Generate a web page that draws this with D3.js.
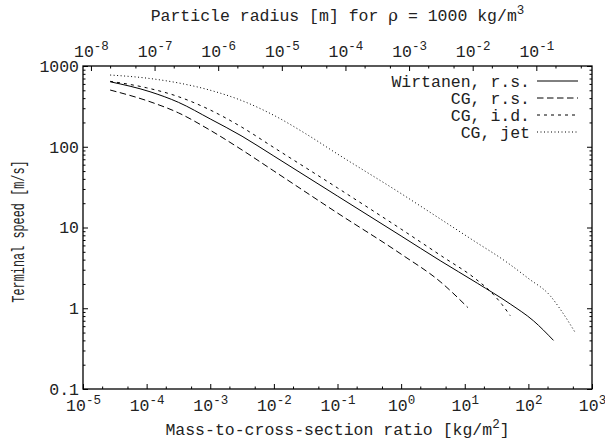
<!DOCTYPE html>
<html>
<head>
<meta charset="utf-8">
<script src="https://cdn.jsdelivr.net/npm/d3@7"></script>
<style>
  body { margin: 0; background: #fff; }
  svg text { font-family: "Liberation Mono", monospace; font-size: 16.5px; fill: #222; }
</style>
</head>
<body>
<svg id="chart" width="605" height="442"></svg>
<script>
// Terminal speed [m/s] against mass-to-cross-section ratio [kg/m^2]
const sigmaWirtanenRS = [2.67e-5, 1.13e-4, 3.16e-4, 1e-3, 3.16e-3, 0.01, 0.1, 1, 4.1, 15.8, 51.8, 120, 248];
const speedWirtanenRS = [638, 480, 355, 221, 135, 76.7, 24.5, 7.85, 3.89, 2.04, 1.13, 0.70, 0.40];

const sigmaCGRS = [2.67e-5, 1.13e-4, 3.16e-4, 1e-3, 3.16e-3, 0.01, 0.1, 1, 4.1, 11.2];
const speedCGRS = [504, 361, 263, 160, 91.2, 50.1, 15.1, 4.68, 2.14, 1.02];

const sigmaCGID = [2.67e-5, 1e-4, 3.16e-4, 1e-3, 3.16e-3, 0.01, 0.1, 1, 4.62, 13.7, 28.2, 38.3, 51.8];
const speedCGID = [646, 537, 417, 285, 174, 97.7, 30.9, 9.55, 4.28, 2.42, 1.48, 1.12, 0.81];

const sigmaCGJet = [2.67e-5, 1e-4, 3.16e-4, 1e-3, 3.16e-3, 0.01, 0.0316, 0.1, 1, 4.1, 13.6, 45.9, 100, 220, 316, 545];
const speedCGJet = [773, 708, 617, 501, 372, 245, 145, 81.3, 26.3, 12.8, 6.92, 3.71, 2.34, 1.43, 0.977, 0.50];

const seriesNames = ["Wirtanen, r.s.", "CG, r.s.", "CG, i.d.", "CG, jet"];

// axis ranges and tick labels
const sigmaDomain = [1e-5, 1e3];
const speedDomain = [0.1, 1000];
const speedTicks = [0.1, 1, 10, 100, 1000];
const speedTickLabels = ["0.1", "1", "10", "100", "1000"];
const sigmaTickExps = [-5, -4, -3, -2, -1, 0, 1, 2, 3];
const radiusTickExps = [-8, -7, -6, -5, -4, -3, -2, -1];
const grainDensity = 1000; // kg/m^3

const svg = d3.select("#chart");
const L = 83, R = 592, T = 66, B = 389;

const x = d3.scaleLog().domain(sigmaDomain).range([L, R]);
// particle radius of a sphere: sigma = 4/3 * rho * r
const toRadius = s => 3 * s / (4 * grainDensity);
const xr = d3.scaleLog().domain(sigmaDomain.map(toRadius)).range([L, R]);
const y = d3.scaleLog().domain(speedDomain).range([B, T]);

function minorTicks(domain, mults) {
  const lo = Math.floor(Math.log10(domain[0])), hi = Math.ceil(Math.log10(domain[1]));
  const out = [];
  for (let e = lo; e <= hi; e++) {
    for (const m of mults) {
      const v = m * Math.pow(10, e);
      if (v > domain[0] * 1.0001 && v < domain[1] * 0.9999) out.push(v);
    }
  }
  return out;
}

function powerLabel(sel) {
  sel.each(function(d) {
    const t = d3.select(this);
    const e = Math.round(Math.log10(d));
    t.text(null);
    t.append("tspan").text("10");
    t.append("tspan").attr("dy", -7).style("font-size", "12.5px").text(e);
  });
}

const MAJ = 5, MIN = 2.5;

// bottom axis: mass-to-cross-section ratio
const sigmaMajor = sigmaTickExps.map(e => Math.pow(10, e));
const gBottom = svg.append("g").attr("transform", `translate(0,${B})`)
  .call(d3.axisBottom(x).tickValues(sigmaMajor).tickSize(-MAJ).tickPadding(10));
gBottom.selectAll(".tick text").call(powerLabel);
svg.append("g").attr("transform", `translate(0,${B})`)
  .call(d3.axisBottom(x).tickValues(minorTicks(sigmaDomain, [2, 5])).tickSize(-MIN).tickFormat(""));

// top axis: particle radius
const radiusMajor = radiusTickExps.map(e => Math.pow(10, e));
const gTop = svg.append("g").attr("transform", `translate(0,${T})`)
  .call(d3.axisTop(xr).tickValues(radiusMajor).tickSize(-MAJ).tickPadding(9));
gTop.selectAll(".tick text").call(powerLabel);
svg.append("g").attr("transform", `translate(0,${T})`)
  .call(d3.axisTop(xr).tickValues(minorTicks(xr.domain(), [2, 5])).tickSize(-MIN).tickFormat(""));

// left and right axes: terminal speed
const speedMinor = minorTicks(speedDomain, [2, 3, 4, 5, 6, 7, 8, 9]);
svg.append("g").attr("transform", `translate(${L},0)`)
  .call(d3.axisLeft(y).tickValues(speedTicks).tickSize(-MAJ).tickPadding(4)
    .tickFormat((d, i) => speedTickLabels[i]));
svg.append("g").attr("transform", `translate(${L},0)`)
  .call(d3.axisLeft(y).tickValues(speedMinor).tickSize(-MIN).tickFormat(""));
svg.append("g").attr("transform", `translate(${R},0)`)
  .call(d3.axisRight(y).tickValues(speedTicks).tickSize(-MAJ).tickFormat(""));
svg.append("g").attr("transform", `translate(${R},0)`)
  .call(d3.axisRight(y).tickValues(speedMinor).tickSize(-MIN).tickFormat(""));

svg.selectAll(".domain").remove();
svg.selectAll(".tick line").attr("stroke", "#000").attr("stroke-width", 1);
svg.selectAll(".tick text").attr("fill", "#222");
svg.selectAll("g").attr("font-size", null).attr("font-family", null);

// frame
svg.append("rect").attr("x", L).attr("y", T).attr("width", R - L).attr("height", B - T)
  .attr("fill", "none").attr("stroke", "#000").attr("stroke-width", 1.3);

// curves
const series = [
  { name: seriesNames[0], s: sigmaWirtanenRS, v: speedWirtanenRS, dash: null },
  { name: seriesNames[1], s: sigmaCGRS, v: speedCGRS, dash: "6.5,3.5" },
  { name: seriesNames[2], s: sigmaCGID, v: speedCGID, dash: "3,4" },
  { name: seriesNames[3], s: sigmaCGJet, v: speedCGJet, dash: "1,2.5" }
];
const line = d3.line().x(d => x(d[0])).y(d => y(d[1])).curve(d3.curveMonotoneX);
svg.append("g").selectAll("path").data(series).join("path")
  .attr("d", d => line(d.s.map((s, i) => [s, d.v[i]])))
  .attr("fill", "none").attr("stroke", "#000").attr("stroke-width", 1)
  .attr("stroke-dasharray", d => d.dash);

// legend
const lg = svg.append("g");
series.forEach((d, i) => {
  const yy = 81 + i * 17;
  lg.append("text").attr("x", 530).attr("y", yy).attr("dy", "0.35em")
    .attr("text-anchor", "end").text(d.name);
  lg.append("line").attr("x1", 537).attr("x2", 578).attr("y1", yy).attr("y2", yy)
    .attr("stroke", "#000").attr("stroke-width", 1).attr("stroke-dasharray", d.dash);
});

// titles
const topTitle = svg.append("text").attr("x", (L + R) / 2).attr("y", 21).attr("text-anchor", "middle");
topTitle.append("tspan").text("Particle radius [m] for ");
topTitle.append("tspan").text("ρ").style("font-family", "DejaVu Serif, serif");
topTitle.append("tspan").text(" = 1000 kg/m");
topTitle.append("tspan").attr("dy", -7).style("font-size", "12.5px").text("3");

const bottomTitle = svg.append("text").attr("x", (L + R) / 2).attr("y", 435).attr("text-anchor", "middle");
bottomTitle.append("tspan").text("Mass-to-cross-section ratio [kg/m");
bottomTitle.append("tspan").attr("dy", -7).style("font-size", "12.5px").text("2");
bottomTitle.append("tspan").attr("dy", 7).text("]");

// vertical label is set more compactly along its length
svg.append("text").attr("transform", `translate(24,${(T + B) / 2 + 4}) rotate(-90) scale(0.72,1.12)`)
  .attr("text-anchor", "middle").text("Terminal speed [m/s]");
</script>
</body>
</html>
